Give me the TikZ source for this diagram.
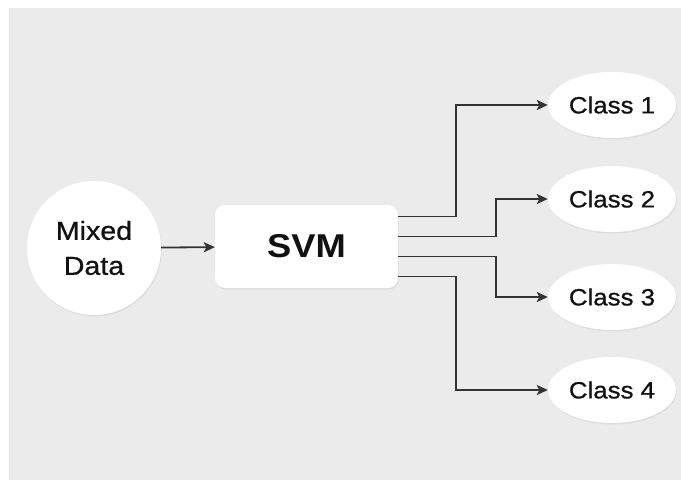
\documentclass[tikz,border=0pt]{standalone}
\usepackage{fontspec}
\setmainfont[FakeStretch=1.1,FakeBold=0.8,BoldFeatures={FakeBold=0}]{Liberation Sans}
\usetikzlibrary{arrows.meta,shadows,shapes.geometric}
\definecolor{panel}{HTML}{EBEBEB}
\definecolor{linec}{HTML}{333333}
\definecolor{txt}{HTML}{111111}
\begin{document}
\begin{tikzpicture}[x=1pt,y=-1pt,
  soft/.style={fill=white, draw=none, text=txt, drop shadow={opacity=0.12, shadow xshift=0.8pt, shadow yshift=-1.5pt}},
  conn/.style={draw=linec, line width=1.8pt, -{Stealth[length=11pt,width=10pt,inset=2.5pt]}},
  classnode/.style={soft, ellipse, minimum width=128pt, minimum height=66pt, inner sep=0pt, font=\fontsize{23.5}{28}\selectfont}]
\useasboundingbox (0,0) rectangle (681,480);
\fill[white] (0,0) rectangle (681,480);
\fill[panel] (9,8) rectangle (681,480);

\node[soft, circle, minimum size=134pt, inner sep=0pt, align=center, font=\fontsize{26}{35}\selectfont] (mixed) at (94,248) {Mixed\\Data};
\node[soft, rectangle, rounded corners=10pt, minimum width=183pt, minimum height=83pt, font=\fontsize{33}{40}\selectfont\bfseries] (svm) at (306.5,246.5) {SVM};

\node[classnode] (c1) at (612,105) {Class 1};
\node[classnode] (c2) at (612,199) {Class 2};
\node[classnode] (c3) at (612,297) {Class 3};
\node[classnode] (c4) at (612,390) {Class 4};

\draw[conn] (mixed) -- (svm);
\draw[conn] ([yshift=30pt]svm.east) -- ++(58,0) |- (c1.west);
\draw[conn] ([yshift=10pt]svm.east) -- ++(98,0) |- (c2.west);
\draw[conn] ([yshift=-10pt]svm.east) -- ++(98,0) |- (c3.west);
\draw[conn] ([yshift=-30pt]svm.east) -- ++(58,0) |- (c4.west);
\end{tikzpicture}
\end{document}
